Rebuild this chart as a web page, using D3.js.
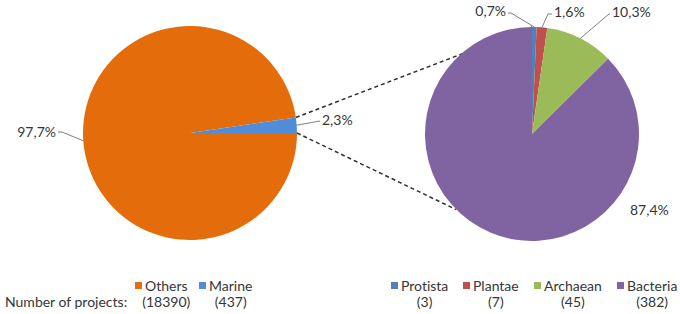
<!DOCTYPE html>
<html>
<head>
<meta charset="utf-8">
<script src="https://cdn.jsdelivr.net/npm/d3@7"></script>
<style>
  body { margin: 0; background: #ffffff; }
  svg text { font-family: Lato, "Open Sans", sans-serif; fill: #363636; font-size: 14px; font-variant-ligatures: none; }
</style>
</head>
<body>
<div id="chart"></div>
<script>
// main pie data
const mainLabels = ["Others", "Marine"];
const mainCounts = [18390, 437];
const mainColors = ["#E46C0A", "#4F8DD8"];

// second pie (the marine part split up)
const subLabels = ["Protista", "Plantae", "Archaean", "Bacteria"];
const subCounts = [3, 7, 45, 382];
const subColors = ["#4F81BD", "#C0504D", "#9BBB59", "#8064A2"];

const legendTitle = "Number of projects:";

const width = 680;
const height = 314;
const radius = 107;
const mainCenter = [190, 133];
const subCenter = [532, 134];

// comma as decimal separator like the original
const locale = d3.formatLocale({ decimal: ",", thousands: ".", grouping: [3], currency: ["", ""] });
const pct = locale.format(".1%");

const svg = d3
  .select("#chart")
  .append("svg")
  .attr("width", width)
  .attr("height", height);

const arcGenerator = d3.arc().innerRadius(0).outerRadius(radius);

// point on the rim of a pie for a given angle (0 = 12 o'clock, clockwise)
const rim = (center, angle, r = radius) => [
  center[0] + r * Math.sin(angle),
  center[1] - r * Math.cos(angle),
];

// left pie: starts at 3 o'clock so the marine slice ends on the horizontal
const mainPie = d3
  .pie()
  .sort(null)
  .startAngle(Math.PI / 2)
  .endAngle(Math.PI / 2 + 2 * Math.PI)
  .value((d) => d);
const mainArcs = mainPie(mainCounts);
const mainTotal = d3.sum(mainCounts);

// right pie starts at 12 o'clock
const subPie = d3.pie().sort(null).value((d) => d);
const subArcs = subPie(subCounts);
const subTotal = d3.sum(subCounts);

// connector lines between the marine slice and the second pie
const marine = mainArcs[1];
const connectors = [
  [rim(mainCenter, marine.startAngle), rim(subCenter, 0)],
  [rim(mainCenter, marine.endAngle), rim(subCenter, Math.PI * 1.25)],
];
svg
  .append("g")
  .selectAll("line")
  .data(connectors)
  .enter()
  .append("line")
  .attr("x1", (d) => d[0][0])
  .attr("y1", (d) => d[0][1])
  .attr("x2", (d) => d[1][0])
  .attr("y2", (d) => d[1][1])
  .attr("stroke", "#303030")
  .attr("stroke-width", 1.5)
  .attr("stroke-dasharray", "4,3");

svg
  .append("g")
  .attr("transform", `translate(${mainCenter[0]}, ${mainCenter[1]})`)
  .selectAll("path")
  .data(mainArcs)
  .enter()
  .append("path")
  .attr("d", arcGenerator)
  .attr("fill", (d, i) => mainColors[i]);

svg
  .append("g")
  .attr("transform", `translate(${subCenter[0]}, ${subCenter[1]})`)
  .selectAll("path")
  .data(subArcs)
  .enter()
  .append("path")
  .attr("d", arcGenerator)
  .attr("fill", (d, i) => subColors[i]);

// data labels: elbow point + text anchor, relative to the pie centre
const mainLabelLayout = [
  { elbow: [-128, -1], text: [-134, -1], anchor: "end" },
  { elbow: [130, -12], text: [132, -13], anchor: "start" },
];
const subLabelLayout = [
  { elbow: [-21, -121], text: [-26, -123], anchor: "end" },
  { elbow: [16, -120], text: [22, -122], anchor: "start" },
  { elbow: [77, -120], text: [80, -122], anchor: "start" },
  { elbow: null, text: [98, 76], anchor: "start" },
];

function drawLabels(center, arcs, layout, total) {
  const g = svg.append("g");
  arcs.forEach((a, i) => {
    const lay = layout[i];
    const mid = (a.startAngle + a.endAngle) / 2;
    const p0 = rim(center, mid);
    const tx = center[0] + lay.text[0];
    const ty = center[1] + lay.text[1];
    if (lay.elbow) {
      const ex = center[0] + lay.elbow[0];
      const ey = center[1] + lay.elbow[1];
      const endX = lay.anchor === "end" ? tx + 2 : tx - 2;
      g.append("polyline")
        .attr("points", `${p0[0]},${p0[1]} ${ex},${ey} ${endX},${ey}`)
        .attr("fill", "none")
        .attr("stroke", "#7F7F7F")
        .attr("stroke-width", 1);
    }
    g.append("text")
      .attr("x", tx)
      .attr("y", ty)
      .attr("dy", "0.35em")
      .attr("text-anchor", lay.anchor)
      .text(pct(a.value / total));
  });
}
drawLabels(mainCenter, mainArcs, mainLabelLayout, mainTotal);
drawLabels(subCenter, subArcs, subLabelLayout, subTotal);

// legends (square, name, count centred under the name)
const row1 = 286;
const row2 = 302;
svg
  .append("text")
  .attr("x", 5)
  .attr("y", row2)
  .attr("dy", "0.35em")
  .text(legendTitle);

function drawLegend(labels, counts, colors, xs) {
  const items = svg
    .append("g")
    .selectAll("g")
    .data(labels)
    .enter()
    .append("g")
    .attr("transform", (d, i) => `translate(${xs[i]}, 0)`);
  items
    .append("rect")
    .attr("x", 0)
    .attr("y", row1 - 4)
    .attr("width", 7)
    .attr("height", 7)
    .attr("fill", (d, i) => colors[i]);
  const names = items
    .append("text")
    .attr("x", 10)
    .attr("y", row1)
    .attr("dy", "0.35em")
    .text((d) => d);
  items
    .append("text")
    .attr("x", function (d, i) {
      const w = names.nodes()[i].getComputedTextLength();
      return 10 + w / 2;
    })
    .attr("y", row2)
    .attr("dy", "0.35em")
    .attr("text-anchor", "middle")
    .text((d, i) => `(${counts[i]})`);
}
drawLegend(mainLabels, mainCounts, mainColors, [135, 199]);
drawLegend(subLabels, subCounts, subColors, [391, 463, 534, 617]);
</script>
</body>
</html>
